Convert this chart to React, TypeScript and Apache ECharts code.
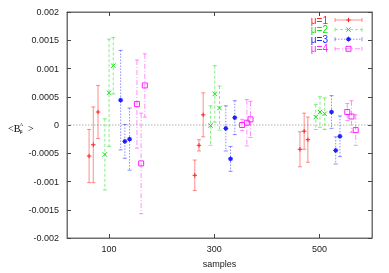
import React, { useEffect, useRef } from "react";
import * as echarts from "echarts";

// sample positions (offset for visibility around 100, 300, 500)
const mu1X = [62, 70, 79, 263, 271, 279, 463, 471, 478];
const mu1Y = [-0.00055, -0.00035, 0.00023, -0.00089, -0.00036, 0.00018, -0.00043, -0.00011, -0.00026];
const mu1Err = [0.00047, 0.00067, 0.00047, 0.00027, 0.0001, 0.00039, 0.00031, 0.00032, 0.0004];

const mu2X = [92, 100, 108, 293, 301, 310, 493, 501, 510];
const mu2Y = [-0.00052, 0.00057, 0.00105, -0.00001, 0.00055, 0.0003, 0.00014, 0.00023, 0.0002];
const mu2Err = [0.00063, 0.00095, 0.0005, 0.00035, 0.0005, 0.00039, 0.00022, 0.00027, 0.00028];

const mu3X = [122, 130, 139, 322, 331, 339, 523, 531, 539];
const mu3Y = [0.00044, -0.00029, -0.00025, -0.00006, -0.0006, 0.00013, 0.00023, -0.00045, -0.0002];
const mu3Err = [0.00088, 0.0003, 0.00055, 0.0004, 0.00022, 0.0003, 0.00029, 0.00024, 0.00036];

const mu4X = [153, 161, 168, 353, 362, 369, 553, 561, 569];
const mu4Y = [0.00037, -0.00068, 0.0007, 0.0, 0.00004, 0.0001, 0.00023, 0.00015, -0.00009];
const mu4Err = [0.00078, 0.00089, 0.00056, 0.0001, 0.00041, 0.00032, 0.00015, 0.00028, 0.00027];

const xTicks = [100, 300, 500];
const seriesNames = ["μ=1", "μ=2", "μ=3", "μ=4"];
const colors = ["#ff2020", "#10e010", "#2020ff", "#ff20ff"];
const dashes: (number[] | null)[] = [null, [3, 2], [1.5, 1.5], [5, 2, 1, 2]];
const symbols = ["plus", "cross", "star", "square"];
const barOpacity = 0.5;

function symbolShapes(kind: string, cx: number, cy: number, color: string) {
  const s = 2.2;
  const ln = (x1: number, y1: number, x2: number, y2: number) => ({
    type: "line",
    shape: { x1, y1, x2, y2 },
    style: { stroke: color, lineWidth: 1 },
  });
  if (kind === "plus") return [ln(cx - s, cy, cx + s, cy), ln(cx, cy - s, cx, cy + s)];
  if (kind === "cross") return [ln(cx - s, cy - s, cx + s, cy + s), ln(cx - s, cy + s, cx + s, cy - s)];
  if (kind === "star")
    return [
      { type: "rect", shape: { x: cx - 1.8, y: cy - 1.8, width: 3.6, height: 3.6 }, style: { fill: color } },
      ln(cx - 2.5, cy, cx + 2.5, cy),
      ln(cx, cy - 2.5, cx, cy + 2.5),
    ];
  return [
    {
      type: "rect",
      shape: { x: cx - 2.5, y: cy - 2.5, width: 5, height: 5 },
      style: { fill: "none", stroke: color, lineWidth: 1 },
    },
  ];
}

function makeRender(idx: number) {
  const color = colors[idx];
  const dash = dashes[idx];
  const kind = symbols[idx];
  return (_params: any, api: any) => {
    const x = api.value(0);
    const y = api.value(1);
    const e = api.value(2);
    const c = api.coord([x, y]);
    const t = api.coord([x, y + e]);
    const b = api.coord([x, y - e]);
    const cap = 2;
    const barStyle: any = { stroke: color, lineWidth: 1, opacity: barOpacity };
    if (dash) barStyle.lineDash = dash;
    const capStyle = { stroke: color, lineWidth: 1, opacity: barOpacity };
    const children: any[] = [
      { type: "line", shape: { x1: c[0], y1: t[1], x2: c[0], y2: b[1] }, style: barStyle },
      { type: "line", shape: { x1: c[0] - cap, y1: t[1], x2: c[0] + cap, y2: t[1] }, style: capStyle },
      { type: "line", shape: { x1: c[0] - cap, y1: b[1], x2: c[0] + cap, y2: b[1] }, style: capStyle },
      ...symbolShapes(kind, c[0], c[1], color),
    ];
    return { type: "group", children };
  };
}

const allX = [mu1X, mu2X, mu3X, mu4X];
const allY = [mu1Y, mu2Y, mu3Y, mu4Y];
const allErr = [mu1Err, mu2Err, mu3Err, mu4Err];

export default function App() {
  const ref = useRef<HTMLDivElement>(null);
  useEffect(() => {
    if (!ref.current) return;
    const chart = echarts.init(ref.current, null, { renderer: "svg" });
    const font = "Liberation Sans, Arial, sans-serif";
    const axisColor = "#707070";

    const series: any[] = allX.map((xs, i) => ({
      type: "custom",
      name: seriesNames[i],
      renderItem: makeRender(i),
      data: xs.map((x, j) => [x, allY[i][j], allErr[i][j]]),
      encode: { x: 0, y: 1 },
      z: 3,
    }));
    series.unshift({
      type: "line",
      name: "zero",
      data: [[20, 0], [600, 0]],
      symbol: "none",
      lineStyle: { color: "#b0b0b0", width: 1, type: [1.5, 1.5] },
      silent: true,
      z: 1,
    });

    // legend built as graphic
    const legendEls: any[] = [];
    seriesNames.forEach((n, i) => {
      const y = 20 + i * 9.6;
      legendEls.push({
        type: "text",
        x: 328,
        y,
        style: { text: n, fill: colors[i], font: `10px ${font}`, align: "right", verticalAlign: "middle" },
      });
      const ls: any = { stroke: colors[i], lineWidth: 1, opacity: barOpacity };
      if (dashes[i]) ls.lineDash = dashes[i];
      const cs = { stroke: colors[i], lineWidth: 1, opacity: barOpacity };
      legendEls.push({ type: "line", shape: { x1: 335, y1: y, x2: 362, y2: y }, style: ls });
      legendEls.push({ type: "line", shape: { x1: 335, y1: y - 2, x2: 335, y2: y + 2 }, style: cs });
      legendEls.push({ type: "line", shape: { x1: 362, y1: y - 2, x2: 362, y2: y + 2 }, style: cs });
      symbolShapes(symbols[i], 348.5, y, colors[i]).forEach((s) => legendEls.push(s));
    });

    const serif = "Liberation Serif, Times New Roman, serif";
    const ylab: any[] = [
      { type: "text", x: 8, y: 128, style: { text: "<B", font: `10px ${serif}`, fill: "#000", verticalAlign: "middle" } },
      { type: "text", x: 19.5, y: 124.5, style: { text: "A", font: `5px ${serif}`, fill: "#000", verticalAlign: "middle" } },
      { type: "text", x: 19.5, y: 131, style: { text: "μ", font: `6px ${serif}`, fill: "#000", verticalAlign: "middle" } },
      { type: "text", x: 28, y: 128, style: { text: ">", font: `10px ${serif}`, fill: "#000", verticalAlign: "middle" } },
    ];

    const fmt = (v: number) => String(parseFloat(v.toFixed(4)));

    chart.setOption({
      animation: false,
      grid: { left: 67, top: 12, right: 17, bottom: 30, show: true, borderColor: axisColor, borderWidth: 1 },
      xAxis: [
        {
          type: "value",
          min: 20,
          max: 600,
          name: "samples",
          nameLocation: "middle",
          nameGap: 21,
          nameTextStyle: { fontFamily: font, fontSize: 9, color: "#222" },
          axisLine: { show: true, onZero: false, lineStyle: { color: axisColor } },
          axisTick: { show: true, inside: true, length: 4, customValues: xTicks, lineStyle: { color: "#444" } },
          axisLabel: { customValues: xTicks, fontFamily: font, fontSize: 9, color: "#222", margin: 6 },
          splitLine: { show: false },
        },
        {
          type: "value",
          position: "top",
          min: 20,
          max: 600,
          axisLine: { show: true, onZero: false, lineStyle: { color: axisColor } },
          axisTick: { show: true, inside: true, length: 4, customValues: xTicks, lineStyle: { color: "#444" } },
          axisLabel: { show: false },
          splitLine: { show: false },
        },
      ],
      yAxis: [
        {
          type: "value",
          min: -0.002,
          max: 0.002,
          interval: 0.0005,
          axisLine: { show: true, onZero: false, lineStyle: { color: axisColor } },
          axisTick: { show: true, inside: true, length: 4, lineStyle: { color: "#444" } },
          axisLabel: { formatter: fmt, fontFamily: font, fontSize: 9, color: "#222", margin: 8 },
          splitLine: { show: false },
        },
        {
          type: "value",
          position: "right",
          min: -0.002,
          max: 0.002,
          interval: 0.0005,
          axisLine: { show: true, onZero: false, lineStyle: { color: axisColor } },
          axisTick: { show: true, inside: true, length: 4, lineStyle: { color: "#444" } },
          axisLabel: { show: false },
          splitLine: { show: false },
        },
      ],
      series,
      graphic: [...legendEls, ...ylab],
    });
    return () => chart.dispose();
  }, []);
  return <div ref={ref} style={{ position: "fixed", left: 0, top: 0, width: 389, height: 273 }} />;
}
